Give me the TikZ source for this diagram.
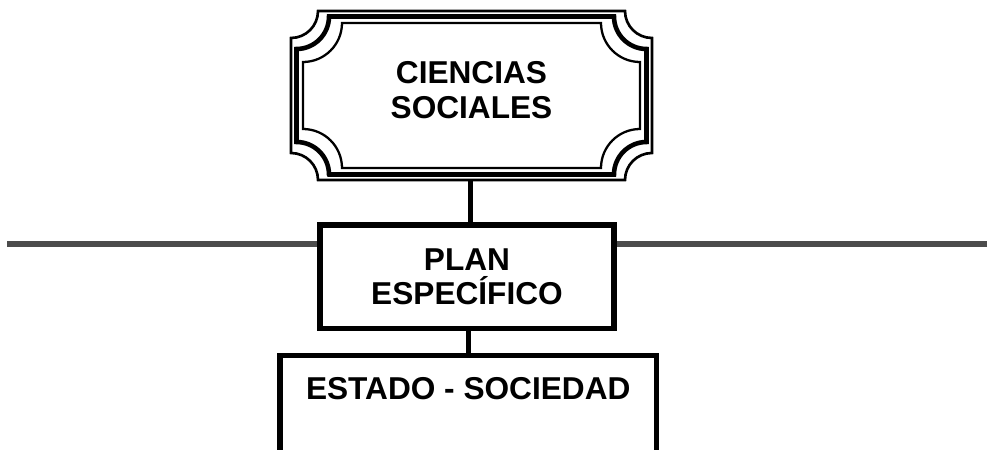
\documentclass[tikz,border=0pt]{standalone}
\usepackage{fontspec}
\setmainfont{Liberation Sans}
\usepackage{tikz}
\usetikzlibrary{positioning}
\usepackage{xcolor}

\tikzset{
  title/.style={font=\fontsize{18}{19.6}\selectfont\bfseries, align=center, inner sep=0pt},
  box/.style={draw, line width=2.9pt, inner sep=0pt},
  link/.style={line width=3.1pt},
  rule/.style={line width=3.1pt, color=black!70}
}

\begin{document}
\begin{tikzpicture}[x=0.02cm, y=0.02cm]
    \clip (0,0) rectangle (988,450);
    \foreach \d/\w in {0/1.5pt, 5.5/2.6pt, 12/1.3pt}
        \draw[line width=\w] (318+2*\d, 270+\d) -- (625-2*\d, 270+\d)
            arc[start angle=180, end angle=90, radius=27+\d] -- (652-\d, 412-2*\d)
            arc[start angle=270, end angle=180, radius=27+\d] -- (318+2*\d, 439-\d)
            arc[start angle=0, end angle=-90, radius=27+\d] -- (291+\d, 297+2*\d)
            arc[start angle=90, end angle=0, radius=27+\d] -- cycle;
    \node[minimum width=7.22cm, minimum height=3.38cm, inner sep=0pt] (cienciasframe) at (471.5,354.5) {};
    \node[title] (ciencias) at (471.5,360) {CIENCIAS\\SOCIALES};
    \node[box, title, minimum width=5.88cm, minimum height=2.07cm] (plan) at (467,173.25) {PLAN\\ESPECÍFICO};
    \node[box, minimum width=7.53cm, minimum height=1.934cm] (estado) at (468.25,46.15) {};
    \node[title, below=0.71cm of estado.north, anchor=center] (estadotxt) {ESTADO - SOCIEDAD};
    \coordinate (lend) at (7,206);
    \coordinate (rend) at (987,206);
    \draw[rule] (lend) -- (lend -| plan.west);
    \draw[rule] (rend) -- (rend -| plan.east);
    \draw[link] ([xshift=2]plan.north) -- ([xshift=2]plan.north |- cienciasframe.south);
    \draw[link] ([xshift=1]plan.south) -- ([xshift=1]plan.south |- estado.north);
\end{tikzpicture}
\end{document}
